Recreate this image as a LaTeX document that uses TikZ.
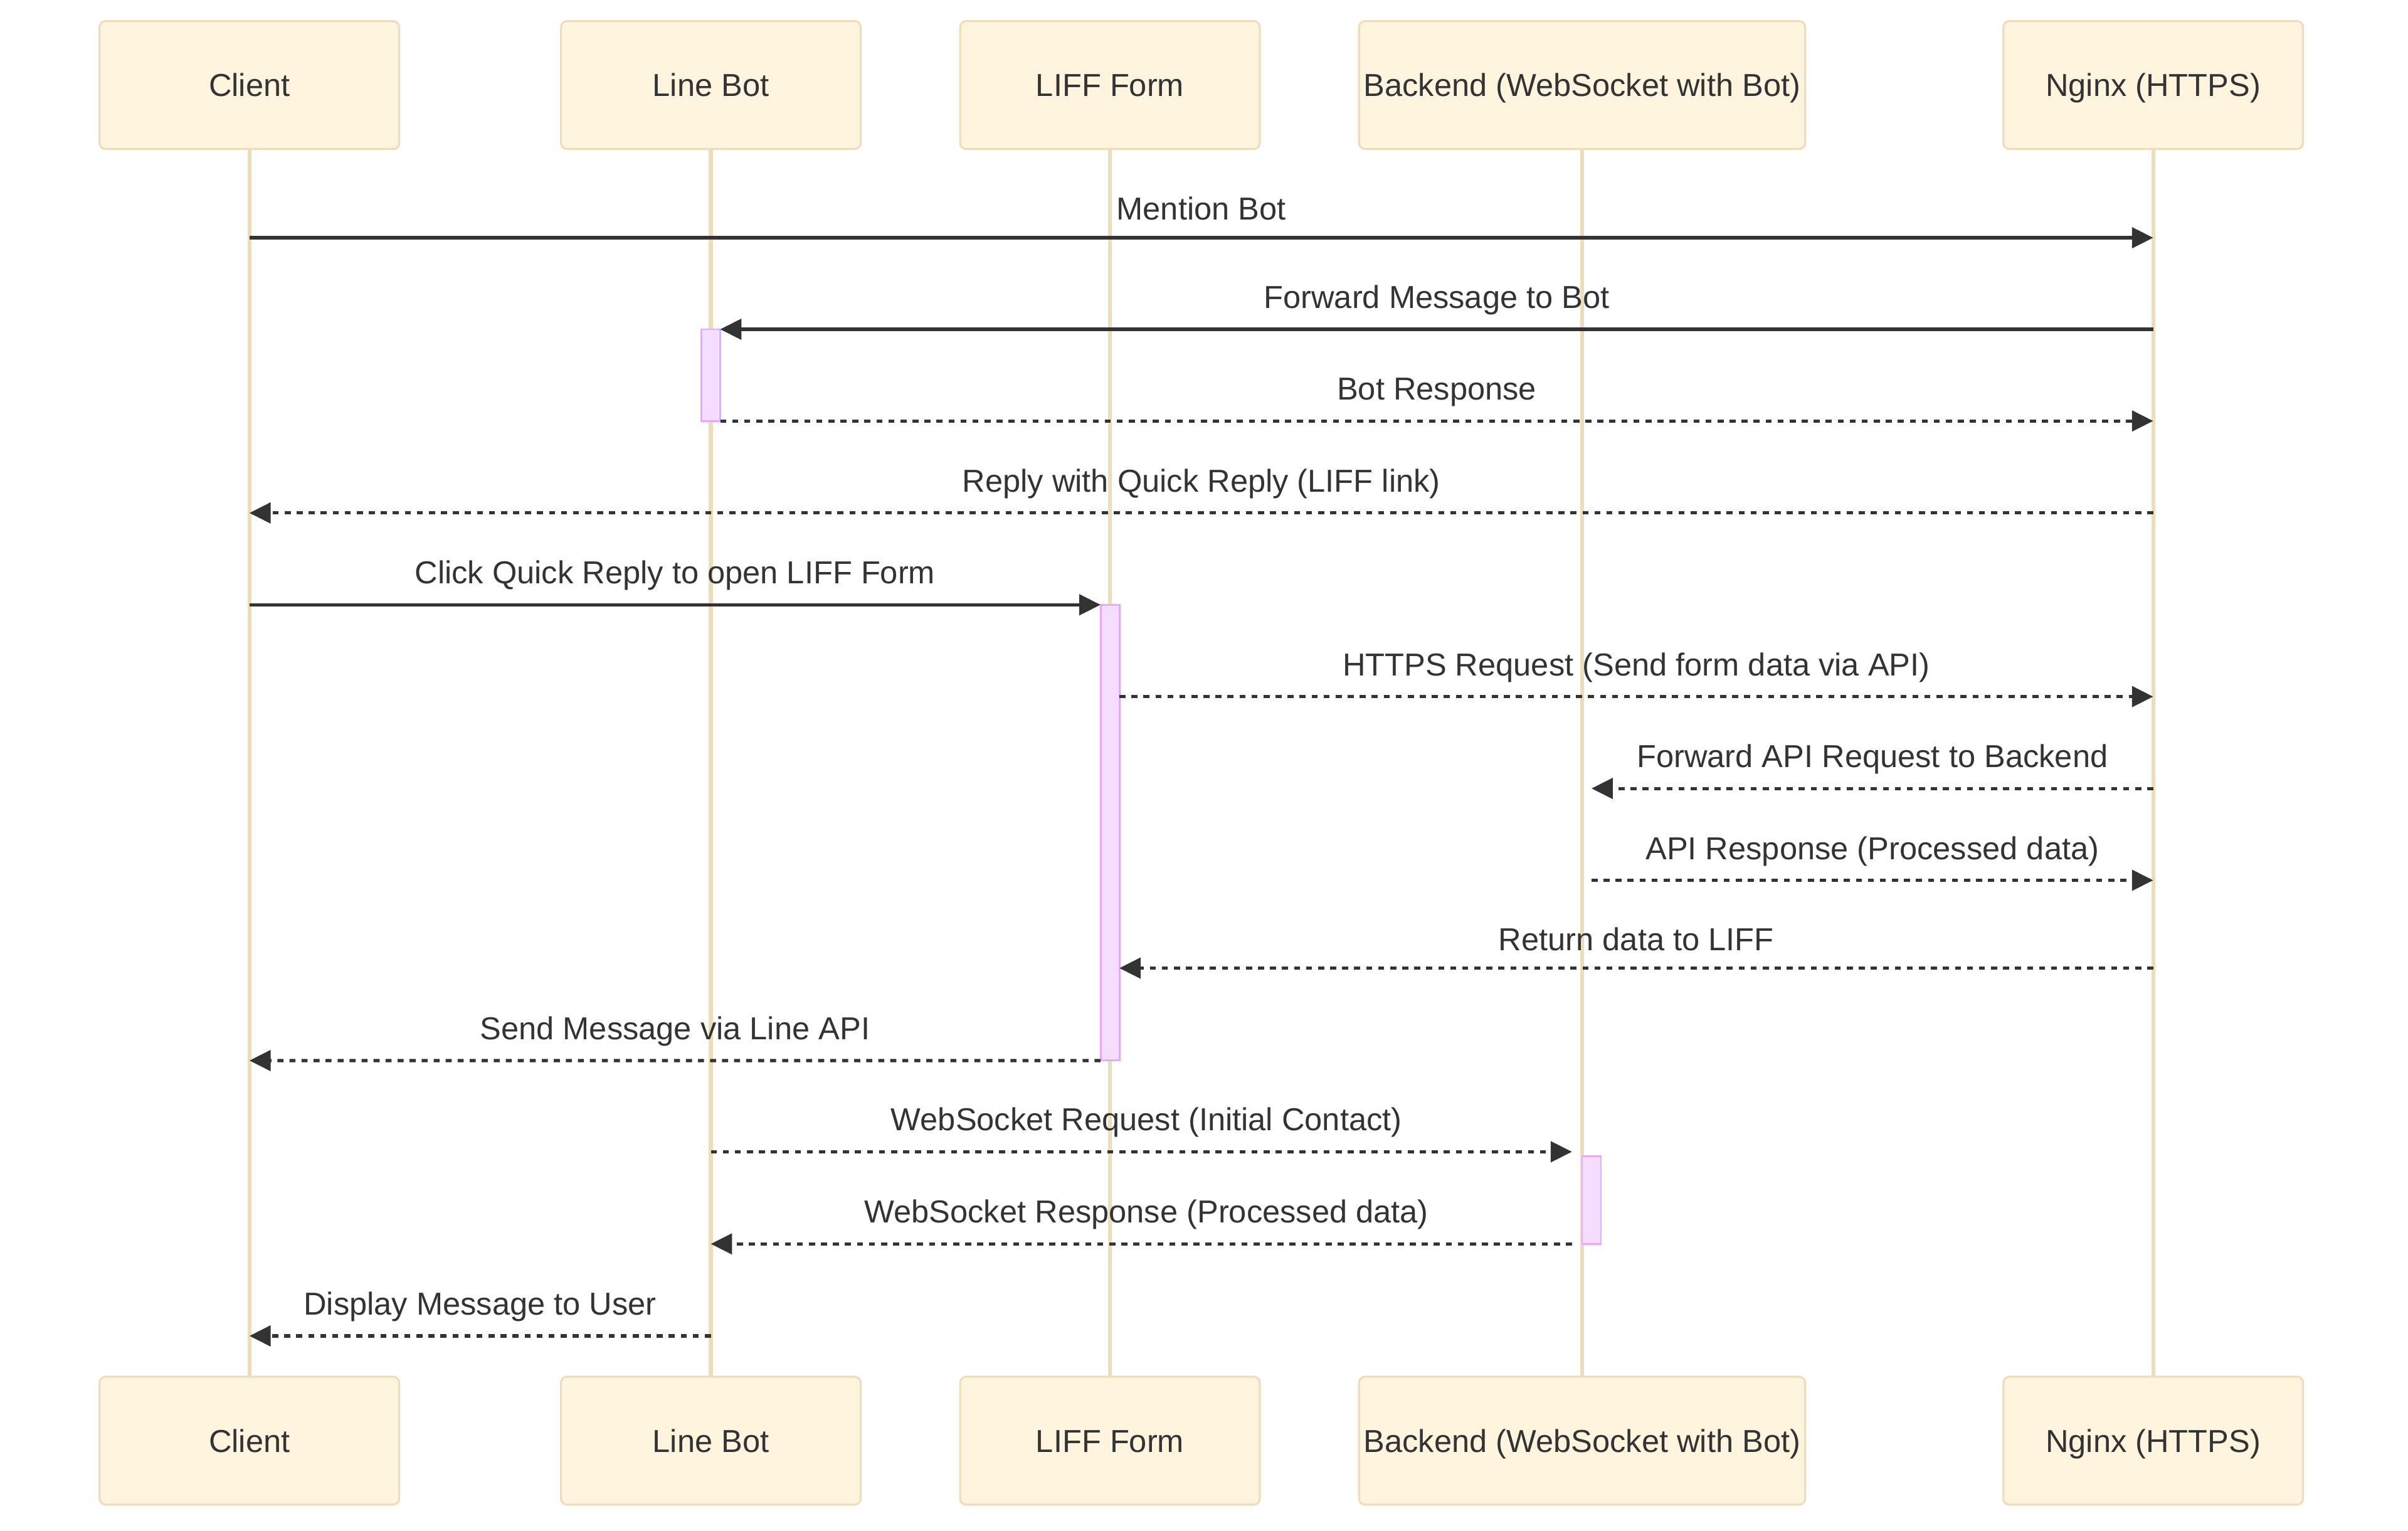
\documentclass[tikz,border=0pt]{standalone}
\usepackage{fontspec}
\setmainfont{Liberation Sans}
\usetikzlibrary{arrows.meta}
\definecolor{actorbg}{HTML}{FFF4DD}
\definecolor{actorline}{HTML}{EEDDBB}
\definecolor{actbg}{HTML}{F4DDFF}
\definecolor{actline}{HTML}{E3AAFF}
\definecolor{ink}{HTML}{333333}

\begin{document}
\begin{tikzpicture}
  [x=1pt, y=-1pt, font=\fontsize{20.6pt}{24pt}\selectfont, text=ink,
   >={Triangle[length=13.8pt, width=13.3pt]},
   actor/.style={rectangle, rounded corners=3.9pt, draw=actorline, fill=actorbg, line width=1.3pt,
     minimum height=83pt, text height=14.8pt, text depth=0pt, inner sep=0pt, outer sep=0pt},
   lifeline/.style={draw=actorline, line width=2.5pt},
   active/.style={rectangle, draw=actline, fill=actbg, line width=1.2pt, minimum width=12.2pt,
     inner sep=0pt, outer sep=0pt},
   call/.style={draw=ink, line width=2.1pt},
   reply/.style={call, dash pattern=on 3.9pt off 3.9pt},
   msg/.style={midway, anchor=base, yshift=13.6pt, inner sep=0pt},
   flat/.style={yshift=-2pt}]
  \useasboundingbox (0, 0) rectangle (1563.1, 993.6);
  \foreach \n/\x/\w/\t in {client/161.9/194.5/Client, linebot/461.4/194.5/Line Bot,
      liff/720.5/194.5/LIFF Form, backend/1027/289.6/Backend (WebSocket with Bot),
      nginx/1397.7/194.5/Nginx (HTTPS)}{
    \node (\n) at (\x, 55.2) [actor, minimum width=\w pt] {\t};
    \node (\n-end) at (\x, 935) [actor, minimum width=\w pt] {\t};
    \draw [lifeline] (\n) to (\n-end);
  }
  \foreach \y [count=\i] in {154.3, 213.7, 273.2, 332.9, 392.5, 452.1, 511.7,
      571.3, 628.3, 688.3, 747.5, 807.3, 867}
    \coordinate (m\i) at (0, \y);
  \node (act bot) [active, minimum height=59.5pt, anchor=north] at (linebot |- m2) {};
  \node (act liff) [active, minimum height=295.8pt, anchor=north] at (liff |- m5) {};
  \node (act back) [active, minimum height=57pt, anchor=north west, yshift=-2.8pt] at (backend |- m11) {};
  \draw [call, ->] (client |- m1) to node [msg, flat] {Mention Bot} (nginx |- m1);
  \draw [call, ->] (nginx |- m2) to node [msg] {Forward Message to Bot} (act bot.north east);
  \draw [reply, ->] (act bot.south east) to node [msg] {Bot Response} (nginx |- m3);
  \draw [reply, ->] (nginx |- m4) to node [msg] {Reply with Quick Reply (LIFF link)} (client |- m4);
  \draw [call, ->] (client |- m5) to node [msg] {Click Quick Reply to open LIFF Form} (act liff.north west);
  \draw [reply, ->] (act liff.east |- m6) to node [msg] {HTTPS Request (Send form data via API)} (nginx |- m6);
  \draw [reply, ->] (nginx |- m7) to node [msg] {Forward API Request to Backend} (act back |- m7);
  \draw [reply, ->] (act back |- m8) to node [msg] {API Response (Processed data)} (nginx |- m8);
  \draw [reply, ->] (nginx |- m9) to node [msg, flat] {Return data to LIFF} (act liff.east |- m9);
  \draw [reply, ->] (act liff.south west) to node [msg] {Send Message via Line API} (client |- m10);
  \draw [reply, ->, shorten >=6.6pt] (linebot |- m11) to node [msg] {WebSocket Request (Initial Contact)} (act back.west |- m11);
  \draw [reply, ->, shorten <=6.6pt] (act back.west |- m12) to node [msg] {WebSocket Response (Processed data)} (linebot |- m12);
  \draw [reply, ->] (linebot |- m13) to node [msg] {Display Message to User} (client |- m13);
\end{tikzpicture}
\end{document}
